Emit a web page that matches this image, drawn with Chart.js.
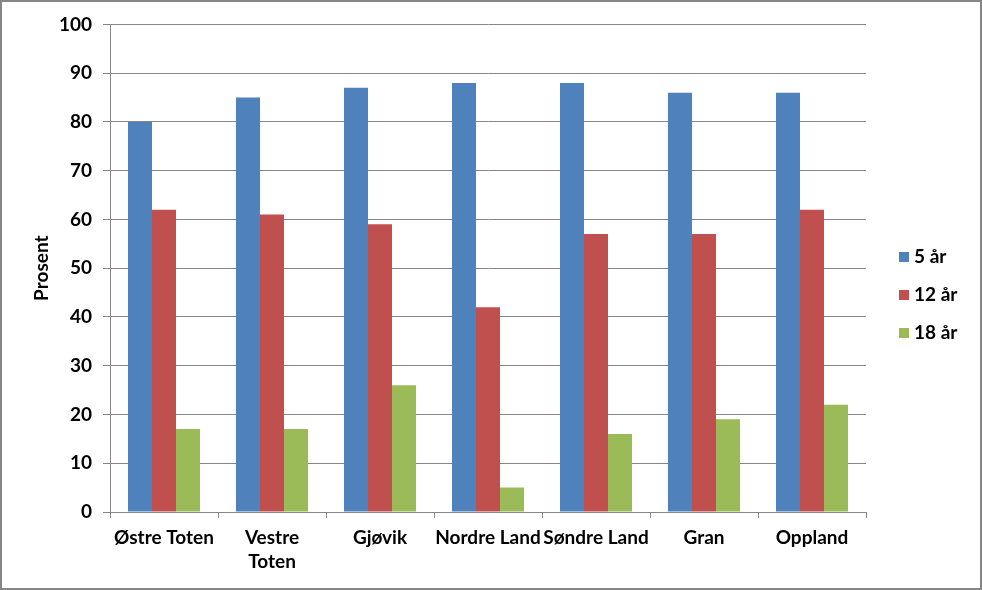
<!DOCTYPE html>
<html>
<head>
<meta charset="utf-8">
<script src="https://cdn.jsdelivr.net/npm/chart.js@4/dist/chart.umd.min.js"></script>
<style>
  html, body { margin: 0; padding: 0; background: #fff; }
  #wrap { width: 982px; height: 590px; box-sizing: border-box; border: 2px solid #868686; background: #fff; }
  canvas { display: block; }
</style>
</head>
<body>
<div id="wrap"><canvas id="chart" width="978" height="586"></canvas></div>
<script>
// data
const categories = ['Østre Toten', ['Vestre', 'Toten'], 'Gjøvik', 'Nordre Land', 'Søndre Land', 'Gran', 'Oppland'];
const seriesNames = ['5 år', '12 år', '18 år'];
const age5 = [80, 85, 87, 88, 88, 86, 86];
const age12 = [62, 61, 59, 42, 57, 57, 62];
const age18 = [17, 17, 26, 5, 16, 19, 22];
const yTicks = [0, 10, 20, 30, 40, 50, 60, 70, 80, 90, 100];

const colors = ['#4F81BD', '#C0504D', '#9BBB59'];
const axisGray = '#868686';
const fontFamily = 'Lato, "Open Sans", "Liberation Sans", sans-serif';

// simple legend on the right, Excel style
const sideLegend = {
    id: 'sideLegend',
    afterDraw(chart) {
        const ctx = chart.ctx;
        ctx.save();
        ctx.font = 'bold 19px ' + fontFamily;
        ctx.textBaseline = 'middle';
        chart.data.datasets.forEach((ds, i) => {
            const y = 255 + i * 38;
            ctx.fillStyle = ds.backgroundColor;
            ctx.fillRect(897, y - 5, 10, 10);
            ctx.fillStyle = '#000';
            ctx.fillText(ds.label, 912, y);
        });
        ctx.restore();
    }
};

new Chart(document.getElementById('chart'), {
    type: 'bar',
    data: {
        labels: categories,
        datasets: [
            { label: seriesNames[0], data: age5, backgroundColor: colors[0] },
            { label: seriesNames[1], data: age12, backgroundColor: colors[1] },
            { label: seriesNames[2], data: age18, backgroundColor: colors[2] }
        ]
    },
    options: {
        responsive: false,
        animation: false,
        datasets: { bar: { categoryPercentage: 0.667, barPercentage: 1 } },
        layout: { padding: { top: 22, right: 114, bottom: 0, left: 0 } },
        plugins: { legend: { display: false }, tooltip: { enabled: false } },
        scales: {
            x: {
                afterFit(s) { s.height = 76; },
                grid: { drawOnChartArea: false, color: axisGray, tickLength: 6, offset: true },
                border: { color: axisGray, width: 1 },
                ticks: {
                    autoSkip: false, maxRotation: 0, minRotation: 0, padding: 8,
                    color: '#000', font: { family: fontFamily, size: 19, weight: 'bold', lineHeight: 1.27 }
                }
            },
            y: {
                min: 0, max: 100,
                afterFit(s) { s.width = 108; },
                afterBuildTicks(s) { s.ticks = yTicks.map(v => ({ value: v })); },
                grid: { color: axisGray, tickLength: 7 },
                border: { color: axisGray, width: 1 },
                ticks: {
                    padding: 11, color: '#000',
                    font: { family: fontFamily, size: 19, weight: 'bold' }
                },
                title: {
                    display: true, text: 'Prosent', color: '#000',
                    padding: { top: 28, bottom: 0 },
                    font: { family: fontFamily, size: 19, weight: 'bold' }
                }
            }
        }
    },
    plugins: [sideLegend]
});
</script>
</body>
</html>
